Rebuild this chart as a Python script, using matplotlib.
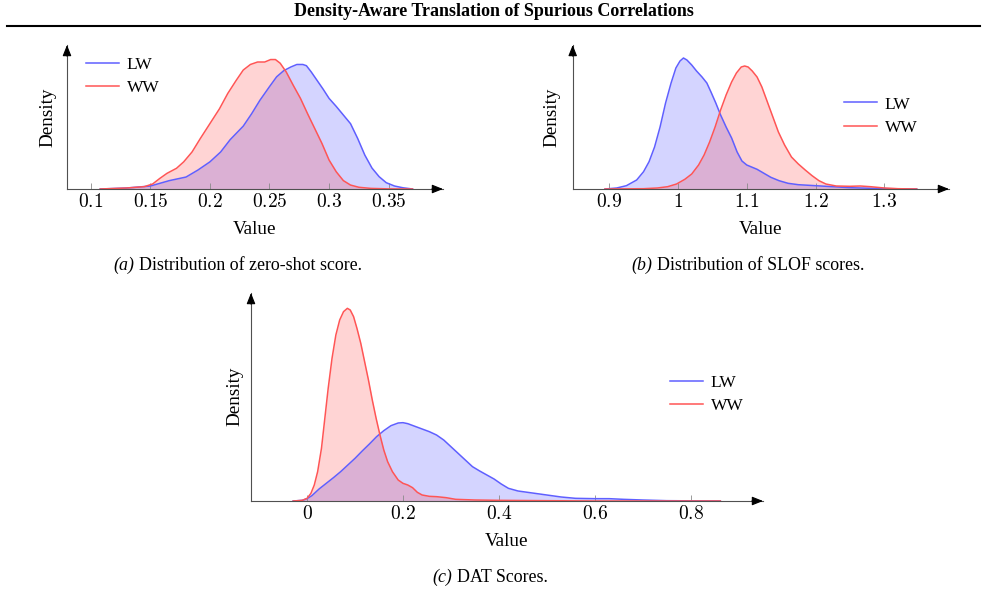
import matplotlib.pyplot as plt
from matplotlib.lines import Line2D

plt.rcParams['font.family'] = ['Liberation Serif', 'DejaVu Serif']
plt.rcParams['mathtext.fontset'] = 'cm'

W, H = 985, 591

# (a) zero-shot score
zs_lw_x = [0.108, 0.13, 0.15, 0.166, 0.18, 0.19, 0.2, 0.209, 0.217, 0.228, 0.235,
           0.242, 0.25, 0.256, 0.262, 0.268, 0.273, 0.278, 0.281, 0.285, 0.29,
           0.295, 0.3, 0.306, 0.312, 0.318, 0.324, 0.33, 0.336, 0.342, 0.348,
           0.355, 0.362, 0.37]
zs_lw = [0, 0.08, 0.24, 0.68, 0.97, 1.54, 2.2, 3.0, 4.0, 5.1, 6.1, 7.2, 8.3, 9.1,
         9.6, 9.9, 10.1, 10.1, 10.0, 9.5, 8.8, 8.1, 7.35, 6.7, 6.0, 5.3, 4.1,
         2.75, 1.7, 1.0, 0.51, 0.24, 0.1, 0]
zs_ww_x = [0.108, 0.13, 0.145, 0.152, 0.158, 0.164, 0.172, 0.178, 0.185, 0.192,
           0.2, 0.208, 0.215, 0.222, 0.228, 0.234, 0.24, 0.246, 0.251, 0.255,
           0.259, 0.264, 0.27, 0.276, 0.282, 0.288, 0.294, 0.3, 0.306, 0.312,
           0.318, 0.325, 0.335, 0.35, 0.37]
zs_ww = [0, 0.08, 0.19, 0.41, 0.86, 1.27, 1.68, 2.2, 3.0, 4.1, 5.3, 6.5, 7.75,
         8.8, 9.65, 10.1, 10.3, 10.3, 10.5, 10.5, 10.2, 9.5, 8.4, 7.35, 6.1, 4.9,
         3.7, 2.35, 1.4, 0.68, 0.32, 0.14, 0.05, 0.01, 0]
zs_ticks = [0.1, 0.15, 0.2, 0.25, 0.3, 0.35]
zs_ticklabels = ['0.1', '0.15', '0.2', '0.25', '0.3', '0.35']

# (b) SLOF scores
slof_lw_x = [0.894, 0.911, 0.925, 0.94, 0.95, 0.958, 0.966, 0.974, 0.982, 0.99,
             0.997, 1.003, 1.008, 1.013, 1.02, 1.027, 1.035, 1.042, 1.048, 1.055,
             1.062, 1.07, 1.078, 1.086, 1.093, 1.1, 1.108, 1.115, 1.125, 1.135,
             1.147, 1.16, 1.175, 1.2, 1.225, 1.25, 1.28, 1.31, 1.347]
slof_lw = [0, 0.1, 0.33, 0.9, 1.73, 2.73, 4.2, 6.2, 8.6, 10.6, 12.1, 12.8, 13.1,
           12.9, 12.4, 11.8, 11.2, 10.6, 9.7, 8.6, 7.4, 6.2, 5.1, 3.7, 2.8, 2.4,
           2.17, 1.97, 1.57, 1.17, 0.83, 0.57, 0.43, 0.33, 0.23, 0.13, 0.07,
           0.03, 0]
slof_ww_x = [0.894, 0.95, 0.97, 0.985, 0.998, 1.01, 1.02, 1.03, 1.038, 1.046,
             1.054, 1.062, 1.07, 1.078, 1.085, 1.092, 1.097, 1.102, 1.108, 1.115,
             1.122, 1.13, 1.138, 1.146, 1.155, 1.165, 1.175, 1.185, 1.195, 1.205,
             1.215, 1.23, 1.25, 1.265, 1.28, 1.3, 1.32, 1.347]
slof_ww = [0, 0.03, 0.1, 0.23, 0.5, 0.97, 1.5, 2.4, 3.4, 4.7, 6.2, 7.9, 9.4, 10.7,
           11.6, 12.2, 12.3, 12.2, 11.8, 11.2, 10.2, 8.7, 7.2, 5.7, 4.4, 3.2,
           2.5, 1.9, 1.33, 0.83, 0.5, 0.3, 0.27, 0.3, 0.23, 0.1, 0.03, 0]
slof_ticks = [0.9, 1.0, 1.1, 1.2, 1.3]
slof_ticklabels = ['0.9', '1', '1.1', '1.2', '1.3']

# (c) DAT scores
dat_lw_x = [-0.029, -0.01, 0.0, 0.01, 0.025, 0.04, 0.055, 0.07, 0.085, 0.1, 0.115,
            0.13, 0.145, 0.16, 0.175, 0.19, 0.2, 0.21, 0.225, 0.24, 0.255, 0.27,
            0.285, 0.3, 0.315, 0.33, 0.345, 0.36, 0.375, 0.39, 0.405, 0.42, 0.44,
            0.46, 0.48, 0.5, 0.53, 0.56, 0.6, 0.63, 0.66, 0.7, 0.75, 0.8, 0.862]
dat_lw = [0, 0.04, 0.14, 0.32, 0.72, 1.06, 1.4, 1.76, 2.16, 2.56, 3.0, 3.42, 3.86,
          4.22, 4.52, 4.68, 4.7, 4.64, 4.48, 4.32, 4.16, 3.96, 3.66, 3.26, 2.86,
          2.46, 2.06, 1.8, 1.56, 1.32, 1.02, 0.76, 0.6, 0.52, 0.44, 0.36, 0.24,
          0.16, 0.14, 0.14, 0.1, 0.06, 0.02, 0.01, 0]
dat_ww_x = [-0.029, -0.01, 0.0, 0.008, 0.015, 0.022, 0.03, 0.037, 0.044, 0.052,
            0.06, 0.068, 0.076, 0.084, 0.09, 0.097, 0.104, 0.112, 0.12, 0.128,
            0.136, 0.144, 0.152, 0.16, 0.168, 0.178, 0.19, 0.2, 0.21, 0.22, 0.23,
            0.24, 0.255, 0.27, 0.29, 0.31, 0.35, 0.4, 0.5, 0.6, 0.862]
dat_ww = [0, 0.04, 0.16, 0.46, 0.96, 1.76, 3.16, 4.96, 6.76, 8.56, 9.96, 10.86,
          11.36, 11.56, 11.46, 11.06, 10.36, 9.46, 8.36, 7.26, 6.06, 4.96, 3.96,
          3.06, 2.36, 1.76, 1.26, 1.06, 0.96, 0.8, 0.52, 0.36, 0.28, 0.26, 0.2,
          0.1, 0.06, 0.04, 0.02, 0.0, 0]
dat_ticks = [0.0, 0.2, 0.4, 0.6, 0.8]
dat_ticklabels = ['0', '0.2', '0.4', '0.6', '0.8']

BLUE_LINE = '#5f5fff'
RED_LINE = '#ff5555'


def px_box(left, top, right, bottom):
    return [left / W, 1 - bottom / H, (right - left) / W, (bottom - top) / H]


def density_panel(ax, lw_x, lw_y, ww_x, ww_y, ticks, ticklabels, xlim, ytop):
    ax.fill_between(lw_x, lw_y, color='blue', alpha=0.17, lw=0)
    ax.plot(lw_x, lw_y, color=BLUE_LINE, lw=1.1, label='LW')
    ax.fill_between(ww_x, ww_y, color='red', alpha=0.17, lw=0)
    ax.plot(ww_x, ww_y, color=RED_LINE, lw=1.1, label='WW')
    ax.set_xlim(*xlim)
    ax.set_ylim(0, ytop)
    ax.set_xticks(ticks)
    ax.set_xticklabels(['$%s$' % t for t in ticklabels], fontsize=14)
    ax.set_yticks([])
    ax.tick_params(axis='x', direction='in', length=4, width=0.6,
                   color='#8a8a8a', pad=3)
    for s in ['top', 'right']:
        ax.spines[s].set_visible(False)
    for s in ['left', 'bottom']:
        ax.spines[s].set_color('#505050')
        ax.spines[s].set_linewidth(0.8)
    arrow = dict(arrowstyle='-|>,head_length=0.55,head_width=0.22', color='k',
                 lw=0.8, shrinkA=0, shrinkB=0, mutation_scale=12)
    ax.annotate('', xy=(1, 0), xycoords='axes fraction', xytext=(-8, 0),
                textcoords='offset points', arrowprops=arrow)
    ax.annotate('', xy=(0, 1), xycoords='axes fraction', xytext=(0, -8),
                textcoords='offset points', arrowprops=arrow)


def add_labels(ax, box, xlabel_y, ylabel_x, ylabel_y):
    left, top, right, bottom = box
    ax.set_xlabel('Value', fontsize=13.8, va='center')
    ax.xaxis.set_label_coords(0.5, -(xlabel_y - bottom) / (bottom - top))
    ax.set_ylabel('Density', fontsize=13.8, va='center', ha='center')
    ax.yaxis.set_label_coords((ylabel_x - left) / (right - left),
                              (bottom - ylabel_y) / (bottom - top))


def add_legend(fig, ax, x_left, y_center):
    ax.legend(loc='center left', bbox_to_anchor=(x_left / W, 1 - y_center / H),
              bbox_transform=fig.transFigure, frameon=False, fontsize=12.5,
              handlelength=1.9, handletextpad=0.45, borderpad=0,
              borderaxespad=0, labelspacing=0.4)


def caption(fig, xc, yc, tag, text, size=12.9):
    t1 = fig.text(0, 0, tag, style='italic', fontsize=size, va='center')
    t2 = fig.text(0, 0, text, fontsize=size, va='center')
    fig.canvas.draw()
    r = fig.canvas.get_renderer()
    w1 = t1.get_window_extent(r).width
    w2 = t2.get_window_extent(r).width
    gap = size / 72 * 100 * 0.25
    x0 = xc - (w1 + gap + w2) / 2
    t1.set_position((x0 / W, 1 - yc / H))
    t2.set_position(((x0 + w1 + gap) / W, 1 - yc / H))


fig = plt.figure(figsize=(W / 100, H / 100), dpi=100)

# page header
fig.text(494 / W, 1 - 12 / H, 'Density-Aware Translation of Spurious Correlations',
         fontsize=13, fontweight='bold', ha='center', va='center')
fig.add_artist(Line2D([7 / W, 980 / W], [1 - 26 / H, 1 - 26 / H], color='k',
                      lw=1.5, transform=fig.transFigure))

box_a = (67, 45, 443, 189)
ax_a = fig.add_axes(px_box(*box_a))
density_panel(ax_a, zs_lw_x, zs_lw, zs_ww_x, zs_ww, zs_ticks, zs_ticklabels,
              (0.0801, 0.3956), 11.68)
add_labels(ax_a, box_a, 229, 48, 117)
add_legend(fig, ax_a, 86, 76.5)

box_b = (572.7, 45, 949, 189)
ax_b = fig.add_axes(px_box(*box_b))
density_panel(ax_b, slof_lw_x, slof_lw, slof_ww_x, slof_ww, slof_ticks,
              slof_ticklabels, (0.847, 1.394), 14.4)
add_labels(ax_b, box_b, 229, 552, 117)
add_legend(fig, ax_b, 844, 116)

box_c = (251, 293, 763, 501)
ax_c = fig.add_axes(px_box(*box_c))
density_panel(ax_c, dat_lw_x, dat_lw, dat_ww_x, dat_ww, dat_ticks,
              dat_ticklabels, (-0.117, 0.951), 12.48)
add_labels(ax_c, box_c, 542, 235, 396)
add_legend(fig, ax_c, 670, 394.5)

caption(fig, 238, 265, '(a)', 'Distribution of zero-shot score.')
caption(fig, 748, 265, '(b)', 'Distribution of SLOF scores.')
caption(fig, 490, 577, '(c)', 'DAT Scores.')

fig.savefig('out.png', dpi=100)
